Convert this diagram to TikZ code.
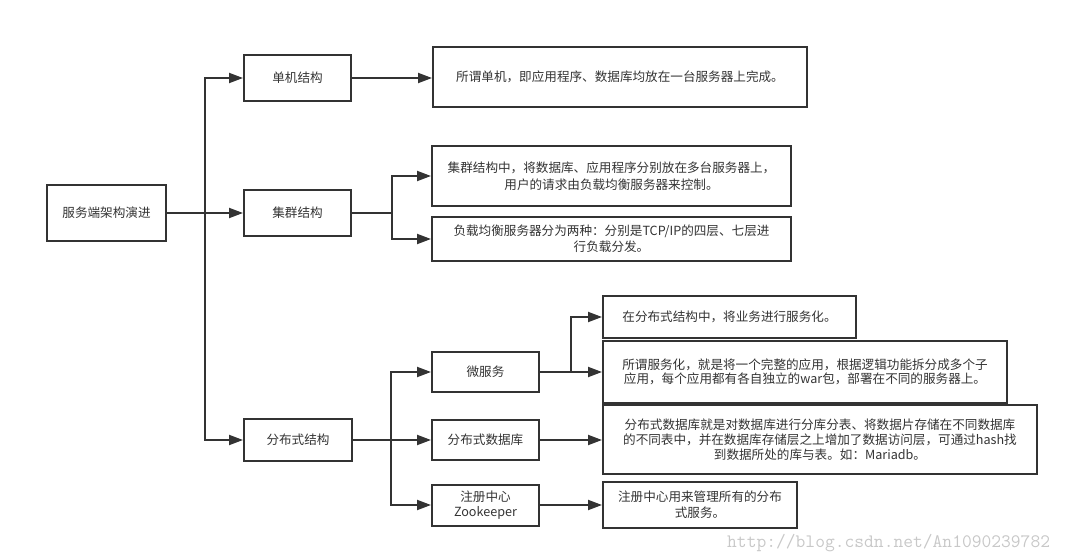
\documentclass[tikz,border=0pt]{standalone}
\usepackage{fontspec}
\setmainfont{Noto Sans CJK SC}
\usetikzlibrary{arrows.meta}
\definecolor{ink}{HTML}{333333}
\definecolor{wm}{HTML}{C8C8C8}
\begin{document}
\begin{tikzpicture}[x=1pt,y=-1pt,
  box/.style={draw=ink, line width=2pt, text=ink, inner sep=0pt, align=center,
              font=\fontsize{12.6}{16}\selectfont},
  conn/.style={draw=ink, line width=2pt},
  arr/.style={conn, -{Triangle[length=14pt,width=10pt]}}]
\useasboundingbox (0,0) rectangle (1069,559);
% level 0
\node[box, minimum width=119pt, minimum height=56pt] (root) at (106.5,213) {服务端架构演进};
% level 1
\node[box, minimum width=107pt, minimum height=46pt] (dj) at (297.5,78) {单机结构};
\node[box, minimum width=107pt, minimum height=45pt] (jq) at (297.5,213) {集群结构};
\node[box, minimum width=108pt, minimum height=42pt] (fb) at (298,440) {分布式结构};
% level 2
\node[box, minimum width=107pt, minimum height=40pt] (ws) at (485.5,372) {微服务};
\node[box, minimum width=107pt, minimum height=40pt] (db) at (485.5,440) {分布式数据库};
\node[box, minimum width=107pt, minimum height=41pt, font=\fontsize{12.6}{15}\selectfont] (zk) at (485.5,505) {注册中心\\Zookeeper};
% descriptions
\node[box, minimum width=374pt, minimum height=60pt] (d1) at (620,77) {所谓单机，即应用程序、数据库均放在一台服务器上完成。};
\node[box, minimum width=359pt, minimum height=60pt, font=\fontsize{12.6}{17.5}\selectfont] (d2) at (611.5,176) {集群结构中，将数据库、应用程序分别放在多台服务器上，\\用户的请求由负载均衡服务器来控制。};
\node[box, minimum width=359pt, minimum height=44pt] (d3) at (611.5,239) {负载均衡服务器分为两种：分别是TCP/IP的四层、七层进\\行负载分发。};
\node[box, minimum width=253pt, minimum height=42pt] (d4) at (729.5,317) {在分布式结构中，将业务进行服务化。};
\node[box, minimum width=404pt, minimum height=62pt, font=\fontsize{12.6}{14.5}\selectfont] (d5) at (805,372) {所谓服务化，就是将一个完整的应用，根据逻辑功能拆分成多个子\\应用，每个应用都有各自独立的war包，部署在不同的服务器上。};
\node[box, minimum width=434pt, minimum height=69pt, font=\fontsize{12.6}{14.8}\selectfont] (d6) at (820,439.5) {分布式数据库就是对数据库进行分库分表、将数据片存储在不同数据库\\的不同表中，并在数据库存储层之上增加了数据访问层，可通过hash找\\到数据所处的库与表。如：Mariadb。};
\node[box, minimum width=194pt, minimum height=46pt] (d7) at (700,505) {注册中心用来管理所有的分布\\式服务。};
% connectors
\coordinate (t0) at (205,213);
\draw[arr] (root.east) -- (jq.west);
\draw[arr] (t0) |- (dj.west);
\draw[arr] (t0) |- (fb.west);
\draw[arr] (dj.east) -- (d1.west |- dj.east);
\coordinate (t1) at (392,213);
\draw[conn] (jq.east) -- (t1);
\draw[arr] (t1) |- (d2.west);
\draw[arr] (t1) |- (d3.west);
\coordinate (t2) at (391,440);
\draw[conn] (fb.east) -- (t2);
\draw[arr] (t2) |- (ws.west);
\draw[arr] (t2) -- (db.west);
\draw[arr] (t2) |- (zk.west);
\coordinate (t3) at (571,372);
\draw[arr] (ws.east) -- (d5.west);
\draw[arr] (t3) |- (d4.west);
\draw[arr] (db.east) -- (d6.west |- db.east);
\draw[arr] (zk.east) -- (d7.west |- zk.east);
% watermark
\node[anchor=base west, inner sep=0pt, text=wm, font=\ttfamily\fontsize{19}{19}\selectfont] (wmk) at (727,547) {http://blog.csdn.net/An1090239782};
\end{tikzpicture}
\end{document}
